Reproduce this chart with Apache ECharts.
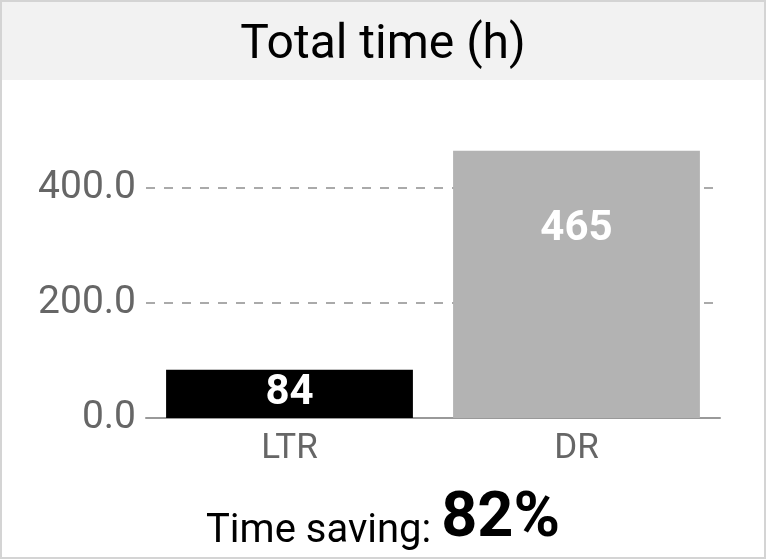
<!DOCTYPE html>
<html>
<head>
<meta charset="utf-8">
<script src="https://cdn.jsdelivr.net/npm/echarts@6/dist/echarts.min.js"></script>
<style>
  html, body { margin: 0; padding: 0; background: #fff; }
  #chart {
    width: 766px;
    height: 559px;
    box-sizing: border-box;
    border: 2px solid #d4d4d4;
  }
</style>
</head>
<body>
<div id="chart"></div>
<script>
// data
const categories = ['LTR', 'DR'];
const hours = [84, 465];
const barColors = ['#000000', '#b3b3b3'];
const yTicks = [0, 200, 400];
const titleText = 'Total time (h)';
const savingPct = Math.round((1 - hours[0] / hours[1]) * 100);

let myChart = echarts.init(document.getElementById('chart'));
let option = {
  animation: false,
  textStyle: { fontFamily: 'Roboto' },
  graphic: [
    {
      type: 'rect',
      left: 0,
      top: 0,
      shape: { width: 762, height: 78 },
      style: { fill: '#f2f2f2' },
      z: -1
    }
  ],
  title: [
    {
      text: titleText,
      left: 'center',
      top: 15,
      textStyle: { fontSize: 48, fontWeight: 'normal', color: '#000', fontFamily: 'Roboto' }
    },
    {
      text: '{a|Time saving: }{b|' + savingPct + '%}',
      left: 'center',
      top: 482,
      textStyle: {
        fontWeight: 'normal',
        rich: {
          a: { fontSize: 40, fontWeight: 'normal', color: '#000', fontFamily: 'Roboto', verticalAlign: 'bottom' },
          b: { fontSize: 63, fontWeight: 'bold', color: '#000', fontFamily: 'Roboto', verticalAlign: 'bottom' }
        }
      }
    }
  ],
  grid: {
    left: 144,
    right: 44,
    top: 140,
    bottom: 139
  },
  xAxis: {
    type: 'category',
    data: categories,
    axisTick: { show: false },
    axisLine: { lineStyle: { color: '#999', width: 2 } },
    axisLabel: { color: '#666', fontSize: 35, margin: 14, fontFamily: 'Roboto' }
  },
  yAxis: {
    type: 'value',
    min: yTicks[0],
    max: 480,
    interval: yTicks[1] - yTicks[0],
    axisLine: { show: false },
    axisTick: { show: false },
    axisLabel: {
      color: '#666',
      fontSize: 39,
      margin: 10,
      fontFamily: 'Roboto',
      showMaxLabel: false,
      formatter: v => (yTicks.indexOf(v) >= 0 ? v.toFixed(1) : '')
    },
    splitLine: {
      show: true,
      lineStyle: {
        color: ['#aaa', '#aaa', '#aaa', 'rgba(0,0,0,0)'],
        type: [9, 9],
        width: 2
      }
    }
  },
  series: [
    {
      type: 'bar',
      barWidth: '86%',
      data: hours.map((v, i) => ({
        value: v,
        itemStyle: { color: barColors[i] },
        label: i === 0
          ? { position: 'inside' }
          : { position: 'insideTop', distance: 58 }
      })),
      label: {
        show: true,
        color: '#fff',
        fontSize: 42,
        fontWeight: 'bold',
        fontFamily: 'Roboto'
      }
    }
  ]
};
myChart.setOption(option, true);
window.addEventListener('resize', () => {
  myChart.resize();
});
</script>
</body>
</html>
